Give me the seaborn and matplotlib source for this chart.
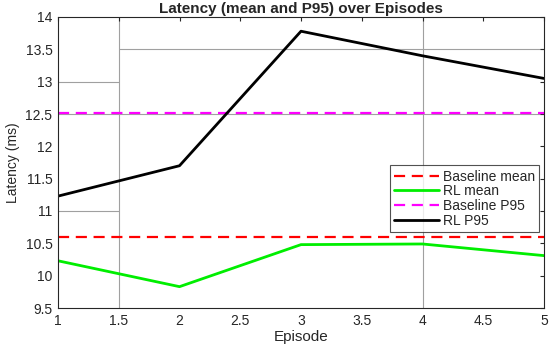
import numpy as np
import pandas as pd
import seaborn as sns
import matplotlib.pyplot as plt

# Chart data
episodes = [1, 2, 3, 4, 5]
rl_mean = [10.23, 9.83, 10.48, 10.49, 10.31]
rl_p95 = [11.23, 11.70, 13.78, 13.40, 13.05]
baseline_mean = 10.60
baseline_p95 = 12.52
x_ticks = [1, 1.5, 2, 2.5, 3, 3.5, 4, 4.5, 5]
y_ticks = [9.5, 10, 10.5, 11, 11.5, 12, 12.5, 13, 13.5, 14]

sns.set_style('white')
plt.rcParams['font.family'] = ['Liberation Sans', 'DejaVu Sans']

fig = plt.figure(figsize=(5.5, 3.47), dpi=100)
ax = fig.add_axes([58 / 550, 1 - 308 / 347, 486 / 550, 291 / 347])

# partial grid segments as they appear in the reference
grid_kw = dict(color='#a0a0a0', lw=0.8, zorder=0)
ax.axvline(1.5, **grid_kw)
ax.axvline(4, **grid_kw)
ax.axhline(13.5, xmin=0.125, xmax=1, **grid_kw)
ax.axhline(13, xmin=0, xmax=0.125, **grid_kw)
ax.axhline(12.5, **grid_kw)
ax.axhline(11, xmin=0, xmax=0.125, **grid_kw)

ax.axhline(baseline_mean, color='#ff0000', ls=(0, (5, 3)), lw=1.6, label='Baseline mean')
sns.lineplot(x=episodes, y=rl_mean, ax=ax, color='#00ee00', lw=2, label='RL mean')
ax.axhline(baseline_p95, color='#ff00ff', ls=(0, (5, 3)), lw=1.6, label='Baseline P95')
sns.lineplot(x=episodes, y=rl_p95, ax=ax, color='black', lw=2, label='RL P95')

ax.set_xlim(1, 5)
ax.set_ylim(9.5, 14)
ax.set_xticks(x_ticks)
ax.set_xticklabels([f'{t:g}' for t in x_ticks])
ax.set_yticks(y_ticks)
ax.set_yticklabels([f'{t:g}' for t in y_ticks])
ax.tick_params(direction='in', top=True, right=True, length=3, labelsize=10,
               colors='#262626', pad=4)
for s in ax.spines.values():
    s.set_color('#262626')
    s.set_linewidth(0.8)

ax.set_title('Latency (mean and P95) over Episodes', fontsize=11, fontweight='bold', pad=3)
ax.set_xlabel('Episode', fontsize=11, labelpad=2)
ax.set_ylabel('Latency (ms)', fontsize=10, labelpad=4)

leg = ax.legend(loc='upper left', bbox_to_anchor=(0.683, 0.49), fontsize=10,
                frameon=True, fancybox=False, borderpad=0.3, labelspacing=0.05,
                handlelength=3.2, handletextpad=0.3, borderaxespad=0)
leg.get_frame().set_edgecolor('#262626')
leg.get_frame().set_linewidth(0.8)

fig.savefig('out.png', dpi=100)
